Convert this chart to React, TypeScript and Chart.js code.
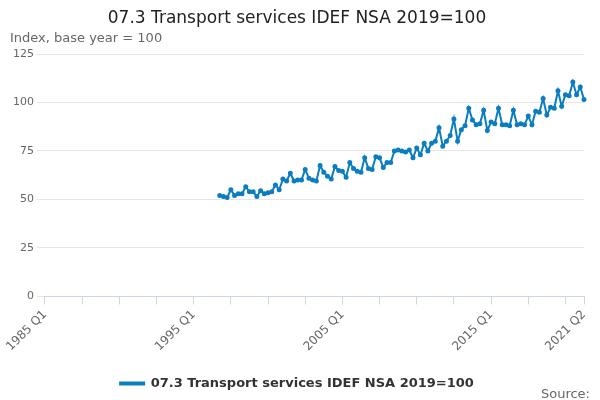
import React, { useEffect, useRef } from "react";
import { Chart, registerables } from "chart.js";
Chart.register(...registerables);

const seriesName = "07.3 Transport services IDEF NSA 2019=100";
const startYear = 1985;
const endYear = 2021;
const endQuarter = 2;
const dataStartLabel = "1996 Q4";
const values: number[] = [
  52, 51.5, 51, 55,
  52, 53, 53, 56.5,
  54, 54, 51.5, 54.5,
  53, 53.5, 54, 57.5,
  55, 60.5, 59.5, 63.5,
  59.5, 60, 60, 65.5,
  61, 60, 59.5, 67.5,
  64, 62, 60.5, 67,
  65, 64.5, 61.5, 69,
  66, 64.5, 64, 71.5,
  66, 65.5, 72, 71.5,
  66.5, 69, 69, 75,
  75.5, 75, 74.5, 75.5,
  71.5, 76.5, 73, 79,
  75, 79, 80, 87,
  77.5, 80, 83, 91.5,
  80, 86, 88, 97,
  91, 88.5, 89, 96,
  85.5, 90, 89, 97,
  88.5, 88.5, 88, 96,
  88.5, 89, 88.5, 93,
  88.5, 95.5, 95, 102,
  93.5, 97.5, 97, 106,
  98, 104, 103.5, 110.5, 104, 108, 101.5,
];
const shownTicks = ["1985 Q1", "1995 Q1", "2005 Q1", "2015 Q1", "2021 Q2"];

const labels: string[] = [];
for (let y = startYear; y <= endYear; y++) {
  for (let q = 1; q <= 4; q++) {
    if (y === endYear && q > endQuarter) break;
    labels.push(`${y} Q${q}`);
  }
}
const offset = labels.indexOf(dataStartLabel);
const data: (number | null)[] = labels.map((_, i) => (i >= offset && i - offset < values.length ? values[i - offset] : null));

export default function App() {
  const ref = useRef<HTMLCanvasElement>(null);
  useEffect(() => {
    const last = labels.length - 1;
    const chart = new Chart(ref.current!, {
      type: "line",
      data: {
        labels,
        datasets: [{
          label: seriesName, data, borderColor: "#0b7dc1", backgroundColor: "#0b7dc1",
          borderWidth: 2, pointRadius: 1.5, pointHoverRadius: 2, spanGaps: false,
        }],
      },
      options: {
        animation: false, responsive: false,
        layout: { padding: { left: 10, right: 16, top: 0, bottom: 0 } },
        font: { family: "DejaVu Sans" } as any,
        plugins: {
          title: { display: true, text: seriesName, color: "#222", font: { family: "DejaVu Sans", size: 17, weight: "normal" }, padding: { top: 8, bottom: 2 } },
          subtitle: { display: true, text: "Index, base year = 100", align: "start", color: "#666", font: { family: "DejaVu Sans", size: 13 }, padding: { bottom: 8 } },
          legend: { position: "bottom", labels: { usePointStyle: false, boxWidth: 24, boxHeight: 2, color: "#333", font: { family: "DejaVu Sans", size: 13, weight: "bold" }, padding: 20 } },
          tooltip: { enabled: false },
        },
        scales: {
          x: {
            grid: {
              drawOnChartArea: false, tickLength: 8,
              color: (c: any) => (c.index % 10 === 0 || c.index === last ? "#ccd6eb" : "transparent"),
            },
            border: { color: "#ccd6eb" },
            ticks: {
              autoSkip: false, maxRotation: 45, minRotation: 45, color: "#666",
              font: { family: "DejaVu Sans", size: 12 },
              callback: (_v: any, i: number) => (shownTicks.includes(labels[i]) ? labels[i] : ""),
            },
          },
          y: {
            min: 0, max: 125,
            ticks: { stepSize: 25, color: "#666", font: { family: "DejaVu Sans", size: 11 } },
            grid: { color: "#e6e6e6" },
            border: { display: false },
          },
        },
      },
      plugins: [{
        id: "source",
        afterDraw(c: any) {
          const ctx = c.ctx;
          ctx.save();
          ctx.font = "13px DejaVu Sans";
          ctx.fillStyle = "#666";
          ctx.textAlign = "right";
          ctx.fillText("Source:", 590, 395);
          ctx.restore();
        },
      }],
    });
    return () => chart.destroy();
  }, []);
  return (
    <div style={{ position: "absolute", left: 0, top: 0, width: 600, height: 400, background: "#fff" }}>
      <canvas ref={ref} width={600} height={400} />
    </div>
  );
}
